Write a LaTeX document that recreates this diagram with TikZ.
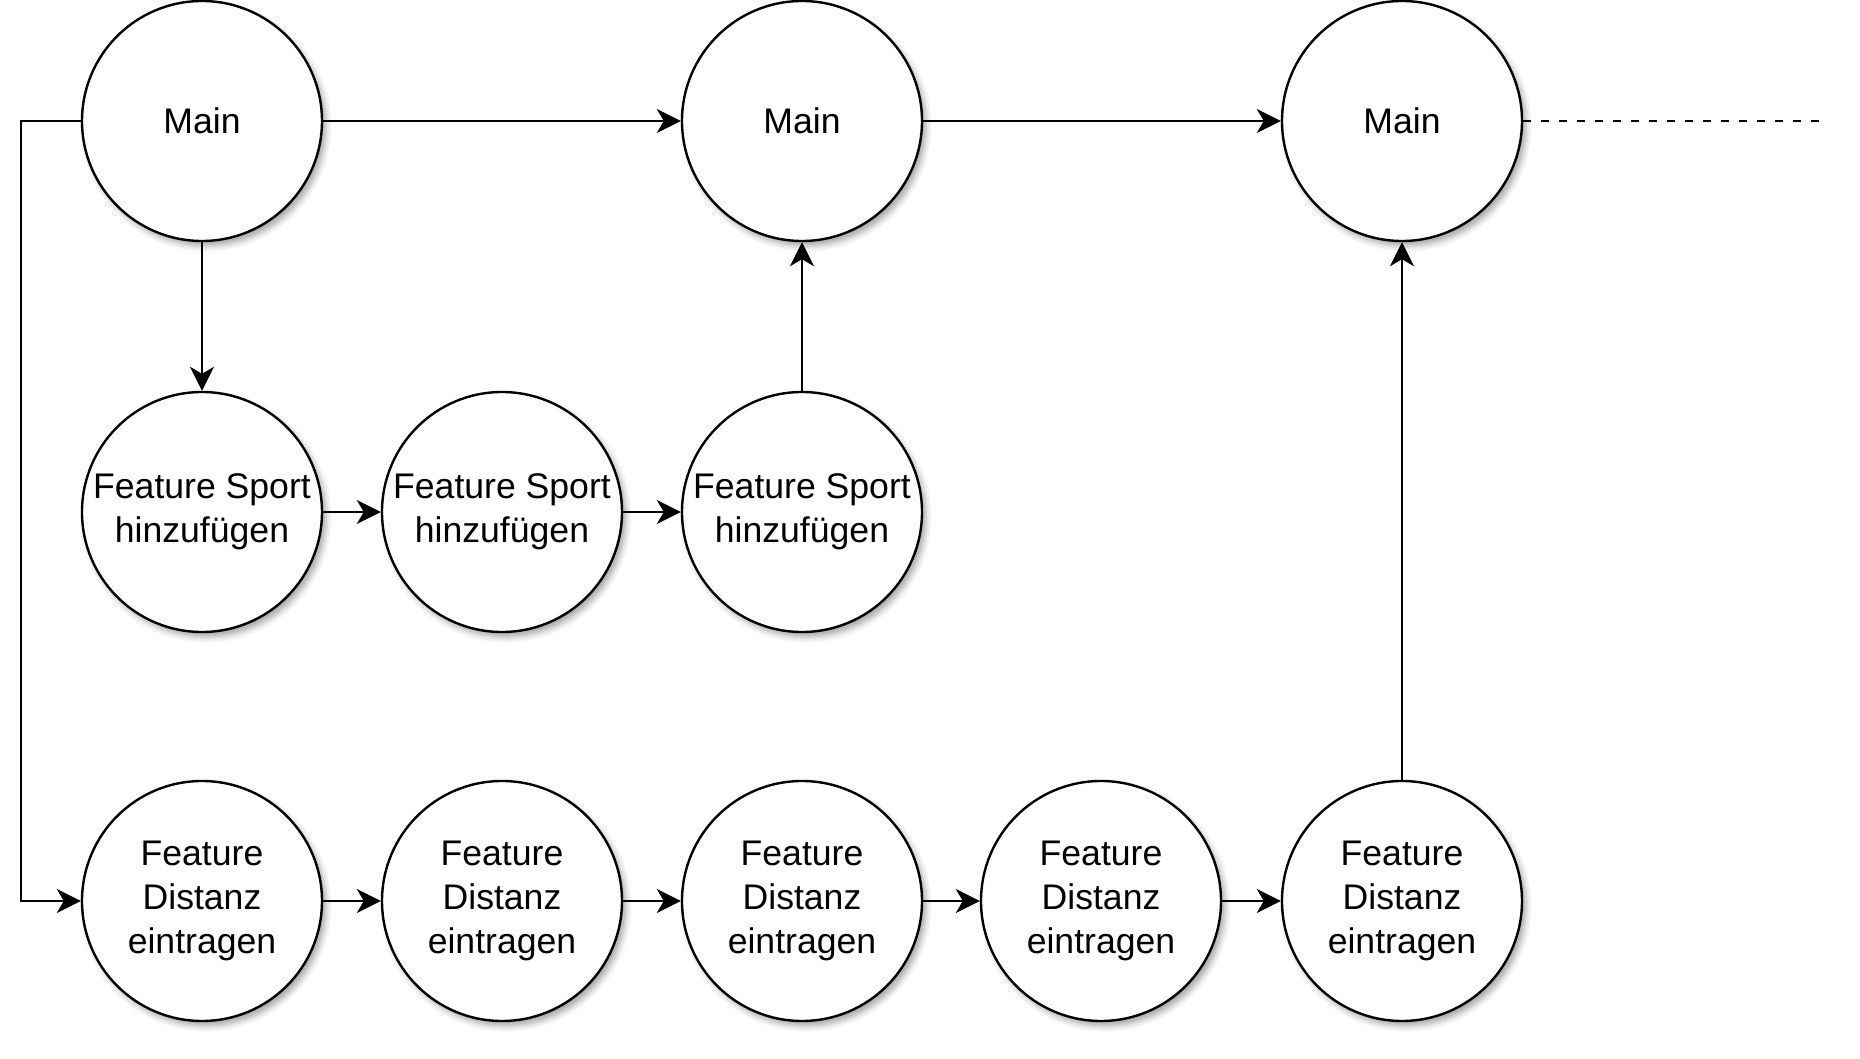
\documentclass[tikz,border=0pt]{standalone}
\usepackage{fontspec}
\setmainfont{Liberation Sans}
\usetikzlibrary{arrows.meta,shadows.blur}
\begin{document}
\begin{tikzpicture}[x=0.5pt,y=-0.5pt,
  st/.style={circle,draw=black,line width=1.2pt,fill=white,minimum size=120pt,inner sep=0pt,
    align=center,font=\fontsize{17.8}{22}\selectfont,
    blur shadow={shadow xshift=2pt,shadow yshift=-2.5pt,shadow blur radius=3pt,shadow opacity=35}},
  arr/.style={line width=1.2pt,-{Stealth[length=12pt,width=12pt,inset=3.5pt]}},
  dashline/.style={line width=1.2pt,dash pattern=on 4pt off 5pt}]
\useasboundingbox (0,0) rectangle (1860,1059);
\node[st] (m1) at (202,121) {Main};
\node[st] (m2) at (802,121) {Main};
\node[st] (m3) at (1402,121) {Main};
\node[st] (s1) at (202,512) {Feature Sport\\hinzufügen};
\node[st] (s2) at (502,512) {Feature Sport\\hinzufügen};
\node[st] (s3) at (802,512) {Feature Sport\\hinzufügen};
\node[st] (d1) at (202,901) {Feature\\Distanz\\eintragen};
\node[st] (d2) at (502,901) {Feature\\Distanz\\eintragen};
\node[st] (d3) at (802,901) {Feature\\Distanz\\eintragen};
\node[st] (d4) at (1101,901) {Feature\\Distanz\\eintragen};
\node[st] (d5) at (1402,901) {Feature\\Distanz\\eintragen};
\coordinate (dend) at (1820,121);
\draw[arr] (m1) -- (m2);
\draw[arr] (m2) -- (m3);
\draw[dashline] (m3.east) -- (dend);
\draw[arr] (m1) -- (s1);
\draw[arr] (s1) -- (s2);
\draw[arr] (s2) -- (s3);
\draw[arr] (s3) -- (m2);
\draw[arr] (m1.west) -- ++(-60,0) |- (d1.west);
\draw[arr] (d1) -- (d2);
\draw[arr] (d2) -- (d3);
\draw[arr] (d3) -- (d4);
\draw[arr] (d4) -- (d5);
\draw[arr] (d5) -- (m3);
\end{tikzpicture}
\end{document}
